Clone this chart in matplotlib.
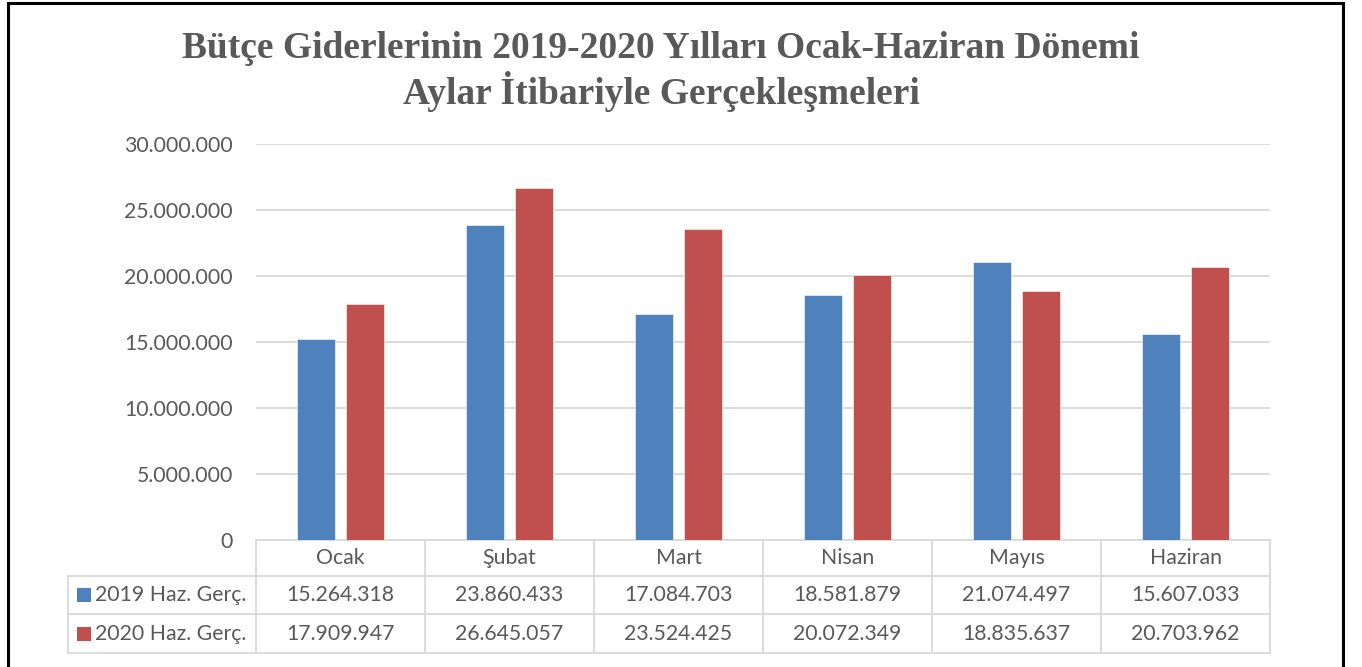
import matplotlib
matplotlib.use("Agg")
import matplotlib.pyplot as plt
from matplotlib.patches import Rectangle
from matplotlib.transforms import blended_transform_factory
import numpy as np

months = ["Ocak", "Şubat", "Mart", "Nisan", "Mayıs", "Haziran"]
series_names = ["2019 Haz. Gerç.", "2020 Haz. Gerç."]
values_2019 = [15264318, 23860433, 17084703, 18581879, 21074497, 15607033]
values_2020 = [17909947, 26645057, 23524425, 20072349, 18835637, 20703962]
yticks = [0, 5000000, 10000000, 15000000, 20000000, 25000000, 30000000]

colors = ["#4F81BD", "#C0504D"]
grid_c = "#D9D9D9"
text_c = "#595959"
body_font = ["Lato", "DejaVu Sans"]
fs = 15.3


def tr_fmt(v):
    return f"{v:,.0f}".replace(",", ".")


W, H = 1362, 667
fig = plt.figure(figsize=(W / 100, H / 100), dpi=100)
ax = fig.add_axes([256 / W, 1 - 540 / H, (1270 - 256) / W, (540 - 144) / H])

x = np.arange(len(months))
bw = 0.225
off = 0.145
for i, vals in enumerate([values_2019, values_2020]):
    ax.bar(x + (i * 2 - 1) * off, vals, width=bw, color=colors[i],
           edgecolor="white", linewidth=0.4, zorder=3)

ax.set_xlim(-0.5, len(months) - 0.5)
ax.set_ylim(0, 30000000)
ax.set_yticks(yticks)
ax.set_yticklabels([tr_fmt(v) for v in yticks], fontsize=fs, color=text_c,
                   family=body_font)
ax.tick_params(axis="y", length=0, pad=16.5)
ax.set_xticks([])
ax.grid(axis="y", color=grid_c, linewidth=1.3, zorder=0)
for s in ax.spines.values():
    s.set_visible(False)

# data table under the axes
tr = blended_transform_factory(ax.transData, ax.transAxes)
ah = 396.0
rows_y = [0, -36 / ah, -74 / ah, -113 / ah]
left = -0.5 - 188 / 169.0
lw = 1.3
kw = dict(transform=tr, color=grid_c, linewidth=lw, clip_on=False)
# horizontal lines
ax.plot([-0.5, 5.5], [rows_y[0]] * 2, **kw)
for yy in rows_y[1:]:
    ax.plot([left, 5.5], [yy, yy], **kw)
# vertical lines
for b in np.arange(-0.5, 6.0, 1.0):
    ax.plot([b, b], [rows_y[0], rows_y[3]], **kw)
ax.plot([left, left], [rows_y[1], rows_y[3]], **kw)

tkw = dict(transform=tr, ha="center", va="center", fontsize=fs,
           color=text_c, family=body_font, clip_on=False)
for i, m in enumerate(months):
    ax.text(i, (rows_y[0] + rows_y[1]) / 2, m, **tkw)
    ax.text(i, (rows_y[1] + rows_y[2]) / 2, tr_fmt(values_2019[i]), **tkw)
    ax.text(i, (rows_y[2] + rows_y[3]) / 2, tr_fmt(values_2020[i]), **tkw)

for r, name in enumerate(series_names):
    yc = (rows_y[r + 1] + rows_y[r + 2]) / 2
    ax.add_patch(Rectangle((left + 9 / 169, yc - 7 / ah), 14 / 169, 14 / ah,
                           transform=tr, facecolor=colors[r], edgecolor="none",
                           clip_on=False))
    ax.text(left + 27 / 169, yc, name, transform=tr, ha="left", va="center",
            fontsize=fs, color=text_c, family=body_font, clip_on=False)

# title
fig.text(661 / W, 1 - 48 / H, "Bütçe Giderlerinin 2019-2020 Yılları Ocak-Haziran Dönemi",
         ha="center", va="center", fontsize=27, fontweight="bold",
         family="Liberation Serif", color=text_c)
fig.text(661 / W, 1 - 92 / H, "Aylar İtibariyle Gerçekleşmeleri",
         ha="center", va="center", fontsize=27, fontweight="bold",
         family="Liberation Serif", color=text_c)

# outer black frame (bottom edge is cut off)
fig.patches.append(Rectangle((8 / W, -0.05), (1343 - 8) / W, 1.05 - 2.5 / H,
                             transform=fig.transFigure, fill=False,
                             edgecolor="black", linewidth=2.2))

fig.savefig("out.png", dpi=100)
